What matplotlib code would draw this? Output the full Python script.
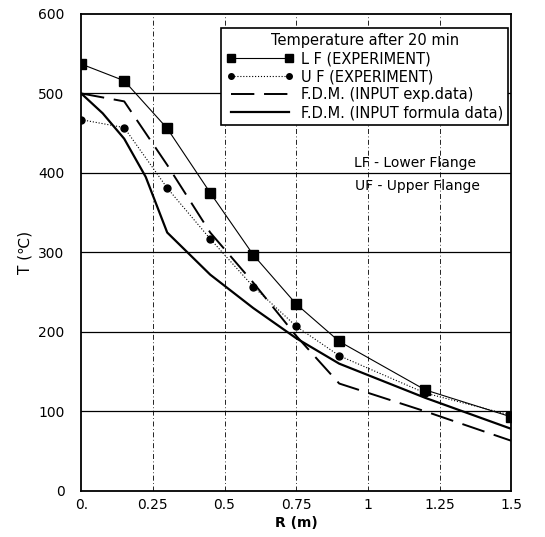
import numpy as np
import matplotlib.pyplot as plt

plt.rcParams['font.family'] = ['DejaVu Sans']

# radius points (m)
r_exp = [0, 0.15, 0.3, 0.45, 0.6, 0.75, 0.9, 1.2, 1.5]
t_lf = [537, 516, 456, 375, 297, 235, 188, 127, 93]
t_uf = [467, 457, 381, 317, 257, 207, 170, 123, 95]

r_fdm_exp = [0, 0.15, 0.3, 0.45, 0.6, 0.75, 0.9, 1.2, 1.5]
t_fdm_exp = [500, 490, 410, 325, 262, 195, 135, 100, 63]

r_fdm_form = [0, 0.075, 0.15, 0.225, 0.3, 0.45, 0.6, 0.75, 0.9, 1.2, 1.5]
t_fdm_form = [500, 475, 443, 395, 325, 272, 230, 192, 160, 117, 78]

xticks = [0, 0.25, 0.5, 0.75, 1, 1.25, 1.5]
xtick_labels = ['0.', '0.25', '0.5', '0.75', '1', '1.25', '1.5']
yticks = [0, 100, 200, 300, 400, 500, 600]

fig = plt.figure(figsize=(5.45, 5.37), dpi=100)
ax = fig.add_axes([0.149, 0.086, 0.789, 0.888])

# grid: solid horizontal, dash-dot vertical
for y in yticks[1:-1]:
    ax.axhline(y, color='black', lw=0.9, zorder=1)
for x in xticks[1:-1]:
    ax.axvline(x, color='black', lw=0.6, ls=(0, (6, 3, 1, 3)), zorder=1)

ax.plot(r_exp, t_lf, color='black', lw=0.8, marker='s', ms=6.5, label='L F (EXPERIMENT)', zorder=3)
ax.plot(r_exp, t_uf, color='black', lw=0.8, ls=':', marker='o', ms=5, label='U F (EXPERIMENT)', zorder=3)
ax.plot(r_fdm_exp, t_fdm_exp, color='black', lw=1.4, ls=(0, (12, 5)), label='F.D.M. (INPUT exp.data)', zorder=2)
ax.plot(r_fdm_form, t_fdm_form, color='black', lw=1.6, label='F.D.M. (INPUT formula data)', zorder=2)

ax.set_xlim(0, 1.5)
ax.set_ylim(0, 600)
ax.set_xticks(xticks)
ax.set_xticklabels(xtick_labels)
ax.set_yticks(yticks)
ax.tick_params(labelsize=10, length=0)
ax.tick_params(axis='x', pad=5)
ax.tick_params(axis='y', pad=12)
for s in ax.spines.values():
    s.set_linewidth(1.3)

ax.set_xlabel('R (m)', fontsize=10, fontweight='bold', labelpad=3)
ax.set_ylabel('T (\u2103)', fontsize=11, labelpad=4)

leg = ax.legend(loc='upper right', bbox_to_anchor=(0.993, 0.97), title='Temperature after 20 min',
                fontsize=10.5, title_fontsize=10.5, numpoints=2, fancybox=False, edgecolor='black',
                framealpha=1, handlelength=4.6, borderpad=0.35, labelspacing=0.2, handletextpad=0.5,
                borderaxespad=0, markerscale=0.8)
leg.get_frame().set_linewidth(1.2)

ax.text(0.95, 413, 'LF - Lower Flange', fontsize=10, va='center')
ax.text(0.955, 384, 'UF - Upper Flange', fontsize=10, va='center')

fig.savefig('out.png', dpi=100)
